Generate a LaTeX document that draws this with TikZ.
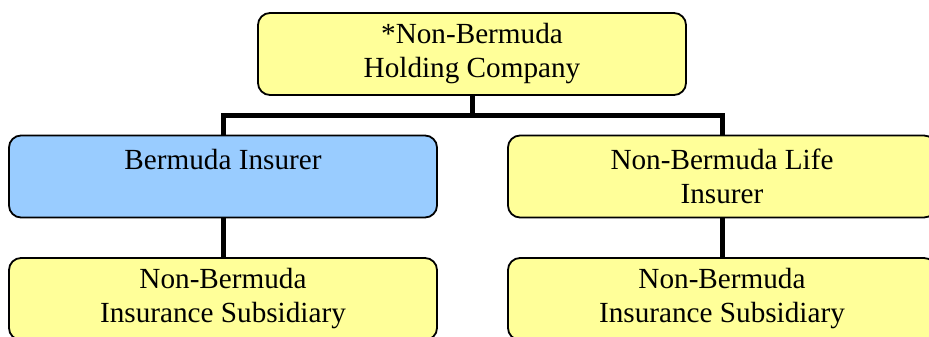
\documentclass[tikz,border=0pt]{standalone}
\usepackage{fontspec}
\setmainfont{Liberation Serif}
\definecolor{boxyellow}{HTML}{FFFF99}
\definecolor{boxblue}{HTML}{99CCFF}
\begin{document}
\begin{tikzpicture}[x=1pt,y=-1pt,
  orgbox/.style={draw=black, line width=1.8pt, rounded corners=12pt,
    minimum width=428pt, minimum height=82pt, inner sep=0pt, align=center,
    font=\fontsize{29.2}{34}\selectfont, fill=boxyellow},
  link/.style={line width=5pt, black, line join=miter}]
\useasboundingbox (0,0) rectangle (929,337);
\clip (0,0) rectangle (929,337);
\node[orgbox] (hold) at (472,54) {*Non-Bermuda\\Holding Company};
\node[orgbox, fill=boxblue] (bi) at (223,176.5) {Bermuda Insurer\\\phantom{Insurer}};
\node[orgbox] (nl) at (722,176.5) {Non-Bermuda Life\\Insurer};
\node[orgbox] (sl) at (223,299) {Non-Bermuda\\Insurance Subsidiary};
\node[orgbox] (sr) at (722,299) {Non-Bermuda\\Insurance Subsidiary};
\coordinate (bus) at (472,115);
\draw[link] (bi.north) |- (bus) -| (nl.north);
\draw[link] (hold.south) -- ([yshift=2.5pt]bus);
\draw[link] (bi.south) -- (sl.north);
\draw[link] (nl.south) -- (sr.north);
\end{tikzpicture}
\end{document}
